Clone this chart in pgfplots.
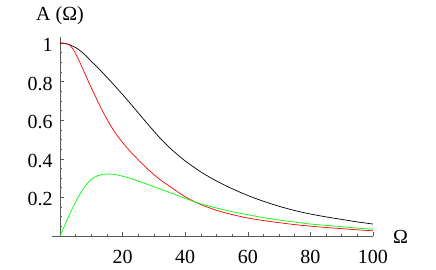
\documentclass[border=0pt]{standalone}
\usepackage{pgfplots}
\pgfplotsset{compat=1.18}
\usepackage{fontspec}
\setmainfont{Liberation Serif}
\begin{document}
\begin{tikzpicture}
\fontsize{20}{24}\selectfont
\useasboundingbox (-60pt,-34pt) rectangle (376pt,236pt);
\begin{axis}[
  at={(0pt,0pt)}, anchor=origin,
  scale only axis,
  width=320.8pt, height=198.8pt,
  xmin=-2.5, xmax=100, ymin=0, ymax=1.03,
  axis lines=middle,
  axis line style={-, black!65, line width=0.6pt},
  tick style={black!65, line width=0.5pt},
  tick align=inside,
  major tick length=3.5pt,
  minor tick length=2pt,
  xtick={20,40,...,100},
  ytick={0.2,0.4,0.6,0.8,1},
  yticklabels={0.2,0.4,0.6,0.8,1},
  minor xtick={0,5,...,100},
  minor ytick={0,0.05,...,1.0},
  /pgf/number format/assume math mode=true,
  tick label style={font=\fontsize{20}{24}\selectfont},
  xticklabel style={yshift=-7pt},
  yticklabel style={xshift=-0.6pt, yshift=-2pt},
  clip=false,
]
\addplot[black, line width=0.7pt, smooth] coordinates {
(0,1.000) (2.5,0.994) (5,0.976) (7.5,0.946) (10,0.905) (12.5,0.865) (15,0.822)
(17.5,0.778) (20,0.733) (22.5,0.686) (25,0.638) (27.5,0.59) (30,0.543)
(32.5,0.498) (35,0.458) (37.5,0.422) (40,0.389) (45,0.332) (50,0.285) (55,0.245)
(60,0.21) (65,0.18) (70,0.154) (75,0.132) (80,0.114) (85,0.099) (90,0.086)
(95,0.073) (100,0.062)};
\addplot[red, line width=0.7pt, smooth] coordinates {
(0,1) (2,0.997) (3,0.99) (4,0.972) (5,0.945) (6,0.912) (7,0.876) (8,0.84)
(9,0.803) (10,0.768) (12,0.7) (14,0.635) (16,0.577) (18,0.527) (20,0.484)
(22.5,0.437) (25,0.395) (27.5,0.355) (30,0.318) (32.5,0.286) (35,0.258)
(40,0.203) (45,0.163) (50,0.133) (55,0.111) (60,0.093) (65,0.08) (70,0.069)
(75,0.059) (80,0.051) (85,0.044) (90,0.038) (95,0.032) (100,0.027)};
\addplot[green, line width=0.7pt, smooth] coordinates {
(0,0) (1,0.037) (2,0.074) (3,0.11) (4,0.145) (5,0.177) (6,0.207) (7,0.234)
(8,0.258) (9,0.278) (10,0.294) (12,0.312) (14,0.32) (16,0.321) (18,0.317)
(20,0.31) (22.5,0.298) (25,0.284) (27.5,0.27) (30,0.255) (35,0.226) (40,0.195)
(45,0.166) (50,0.145) (55,0.126) (60,0.11) (65,0.095) (70,0.083) (75,0.072)
(80,0.062) (85,0.055) (90,0.048) (95,0.041) (100,0.035)};
\node[anchor=west, inner sep=0pt] at (axis cs:100,0) [xshift=20pt, yshift=-1pt] {Ω};
\node[anchor=south, inner sep=0pt] at (axis cs:0,1.03) [yshift=12pt] {A (Ω)};
\end{axis}
\end{tikzpicture}
\end{document}
